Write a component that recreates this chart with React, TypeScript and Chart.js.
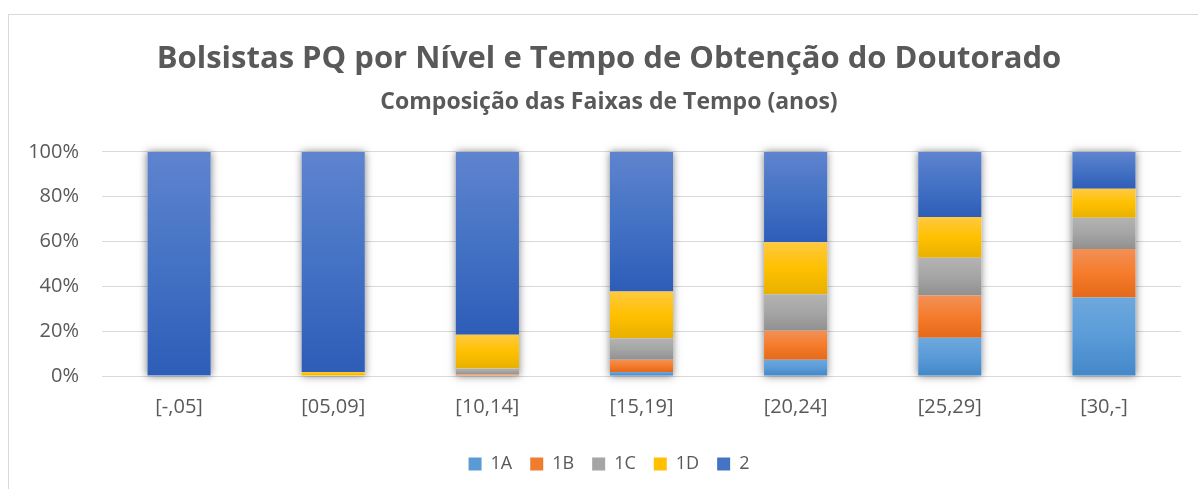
import React, { useEffect, useRef } from "react";
import { Chart, registerables } from "chart.js";

Chart.register(...registerables);

const categories = ["[-,05]", "[05,09]", "[10,14]", "[15,19]", "[20,24]", "[25,29]", "[30,-]"];
const seriesNames = ["1A", "1B", "1C", "1D", "2"];
const s1A = [0, 0, 0, 1.8, 7.2, 17.1, 35.0];
const s1B = [0, 0, 0.7, 5.4, 13.0, 18.8, 21.6];
const s1C = [0, 0, 2.7, 9.6, 16.3, 16.8, 14.0];
const s1D = [0, 1.8, 15.0, 20.9, 23.2, 18.2, 12.9];
const s2 = [100, 98.2, 81.6, 62.3, 40.3, 29.1, 16.5];
const yTicks = [0, 20, 40, 60, 80, 100];

const baseColors = ["#5B9BD5", "#F07D2E", "#A5A5A5", "#FFC000", "#4472C4"];
const gradStops: string[][] = [
  ["#6EA8DD", "#5A9BD8", "#4488C9"],
  ["#F29058", "#F57C2B", "#E4691A"],
  ["#B3B3B3", "#A5A5A5", "#909090"],
  ["#FFC940", "#FFC000", "#E8B000"],
  ["#5F84CF", "#4472C4", "#2E5DB8"],
];

const TEXT = "#595959";
const FONT = "'Open Sans', sans-serif";

const stylePlugin = {
  id: "officeStyle",
  beforeDatasetsDraw(chart: any) {
    const ctx = chart.ctx;
    const n = chart.data.labels.length;
    for (let i = 0; i < n; i++) {
      let top = Infinity, base = -Infinity, x = 0, w = 0;
      chart.data.datasets.forEach((_d: any, di: number) => {
        const el: any = chart.getDatasetMeta(di).data[i];
        if (!el) return;
        top = Math.min(top, el.y, el.base);
        base = Math.max(base, el.base, el.y);
        x = el.x; w = el.width;
      });
      if (!isFinite(top)) continue;
      ctx.save();
      ctx.shadowColor = "rgba(0,0,0,0.5)";
      ctx.shadowBlur = 8;
      ctx.fillStyle = "#ffffff";
      ctx.fillRect(x - w / 2, top, w, base - top);
      ctx.restore();
    }
    chart.data.datasets.forEach((_d: any, di: number) => {
      const meta = chart.getDatasetMeta(di);
      meta.data.forEach((el: any) => {
        const y0 = Math.min(el.y, el.base);
        const y1 = Math.max(el.y, el.base);
        if (y1 - y0 < 0.5) return;
        const g = ctx.createLinearGradient(0, y0, 0, y1);
        const st = gradStops[di];
        g.addColorStop(0, st[0]);
        g.addColorStop(0.5, st[1]);
        g.addColorStop(1, st[2]);
        el.options = Object.assign({}, el.options, { backgroundColor: g });
      });
    });
  },
};

export default function App() {
  const ref = useRef<HTMLCanvasElement | null>(null);
  useEffect(() => {
    if (!ref.current) return;
    const values = [s1A, s1B, s1C, s1D, s2];
    const chart = new Chart(ref.current, {
      type: "bar",
      data: {
        labels: categories,
        datasets: seriesNames.map((name, i) => ({
          label: name,
          data: values[i],
          backgroundColor: baseColors[i],
          borderWidth: 0,
          categoryPercentage: 1,
          barPercentage: 0.41,
        })),
      },
      options: {
        animation: false,
        responsive: false,
        maintainAspectRatio: false,
        layout: { padding: { left: 28, right: 17, top: 0, bottom: 6 } },
        plugins: {
          title: {
            display: true,
            text: "Bolsistas PQ por Nível e Tempo de Obtenção do Doutorado",
            color: TEXT,
            font: { family: FONT, size: 31, weight: "bold" },
            padding: { top: 26, bottom: 0 },
          },
          subtitle: {
            display: true,
            text: "Composição das Faixas de Tempo (anos)",
            color: TEXT,
            font: { family: FONT, size: 23, weight: "bold" },
            padding: { top: 10, bottom: 36 },
          },
          legend: {
            position: "bottom",
            labels: {
              color: TEXT,
              font: { family: FONT, size: 18 },
              boxWidth: 13,
              boxHeight: 13,
              padding: 18,
            },
          },
          tooltip: { enabled: false },
        },
        scales: {
          x: {
            stacked: true,
            grid: { display: false },
            border: { display: false },
            afterFit: (axis: any) => {
              axis.height += 7;
            },
            ticks: { color: TEXT, font: { family: FONT, size: 20 }, padding: 11 },
          },
          y: {
            stacked: true,
            min: 0,
            max: 100,
            afterBuildTicks: (axis: any) => {
              axis.ticks = yTicks.map((v) => ({ value: v }));
            },
            afterFit: (axis: any) => {
              axis.width = 65;
              axis._computeLabelArea = () => undefined;
            },
            grid: { color: "#D9D9D9", lineWidth: 1, drawTicks: false },
            border: { display: false },
            ticks: {
              color: TEXT,
              font: { family: FONT, size: 20 },
              padding: 23,
              callback: (v: any) => v + "%",
            },
          },
        },
      },
      plugins: [stylePlugin],
    } as any);
    return () => chart.destroy();
  }, []);
  return (
    <div
      style={{
        position: "fixed",
        left: 8,
        top: 14,
        width: 1190,
        height: 475,
        borderLeft: "1px solid #D9D9D9",
        borderTop: "1px solid #D9D9D9",
        boxSizing: "border-box",
        background: "#fff",
      }}
    >
      <canvas ref={ref} width={1189} height={474} style={{ display: "block" }} />
    </div>
  );
}
